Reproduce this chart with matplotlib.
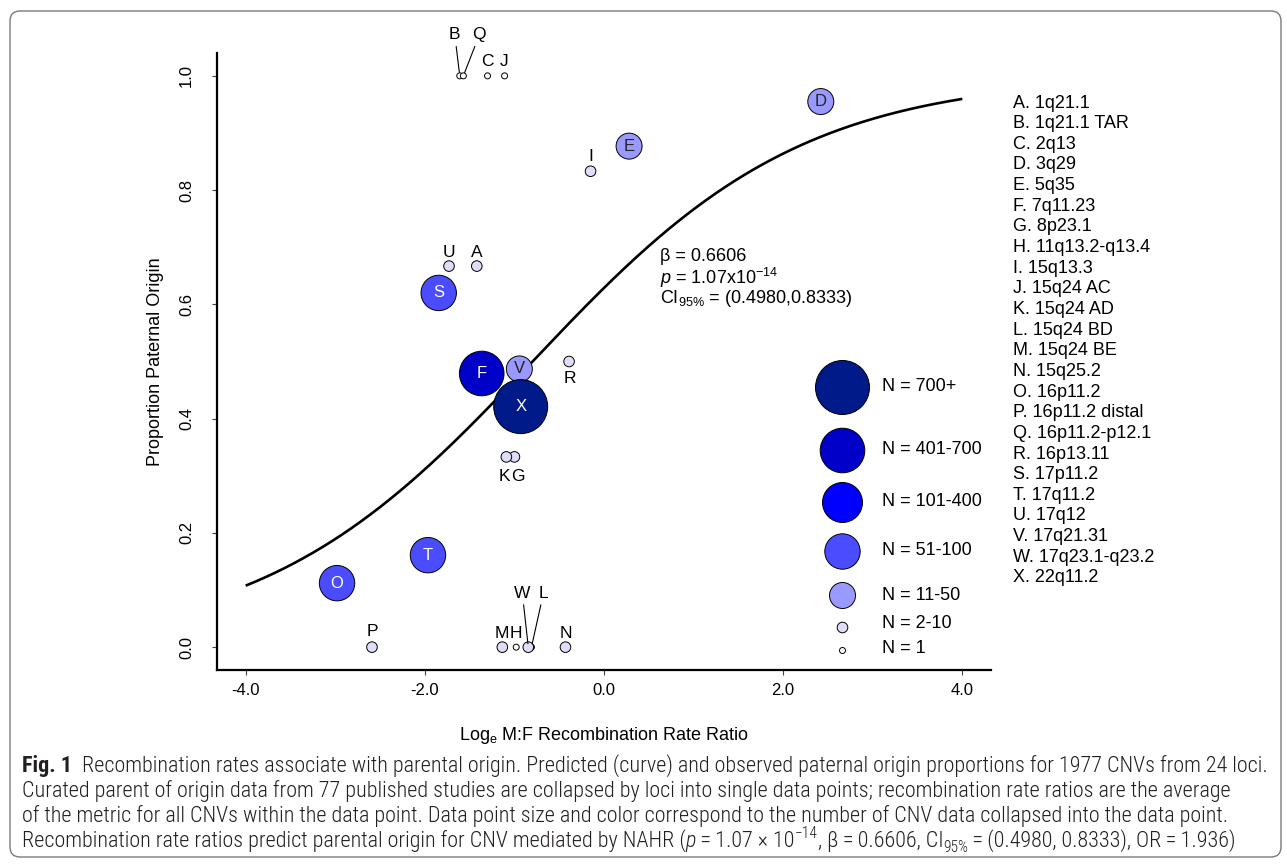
import matplotlib

matplotlib.use("Agg")
import matplotlib.pyplot as plt
import numpy as np
from matplotlib.patches import FancyBboxPatch
from matplotlib.transforms import IdentityTransform

plt.rcParams["font.family"] = ["Liberation Sans", "DejaVu Sans"]
plt.rcParams["mathtext.fontset"] = "custom"
plt.rcParams["mathtext.rm"] = "Liberation Sans"
plt.rcParams["mathtext.it"] = "Liberation Sans:italic"

# --- data ---------------------------------------------------------------
loci = list("ABCDEFGHIJKLMNOPQRSTUVWX")
loci_names = [
    "1q21.1", "1q21.1 TAR", "2q13", "3q29", "5q35", "7q11.23", "8p23.1",
    "11q13.2-q13.4", "15q13.3", "15q24 AC", "15q24 AD", "15q24 BD",
    "15q24 BE", "15q25.2", "16p11.2", "16p11.2 distal", "16p11.2-p12.1",
    "16p13.11", "17p11.2", "17q11.2", "17q12", "17q21.31",
    "17q23.1-q23.2", "22q11.2",
]
log_ratio = [
    -1.42, -1.61, -1.30, 2.42, 0.28, -1.365, -1.00, -0.98, -0.15, -1.11,
    -1.09, -0.81, -1.135, -0.43, -2.98, -2.59, -1.57, -0.39, -1.845,
    -1.965, -1.73, -0.945, -0.845, -0.93,
]
prop_paternal = [
    0.667, 1.0, 1.0, 0.955, 0.877, 0.479, 0.333, 0.0, 0.833, 1.0,
    0.333, 0.0, 0.0, 0.0, 0.112, 0.0, 1.0, 0.5, 0.62,
    0.161, 0.667, 0.487, 0.0, 0.421,
]
n_class = [
    "2-10", "1", "1", "11-50", "11-50", "401-700", "2-10", "1", "2-10", "1",
    "2-10", "1", "2-10", "2-10", "51-100", "2-10", "1", "2-10", "51-100",
    "51-100", "2-10", "11-50", "2-10", "700+",
]

# size classes (legend order)
size_classes = ["700+", "401-700", "101-400", "51-100", "11-50", "2-10", "1"]
class_colors = ["#001a8a", "#0000c8", "#0000ff", "#4c4cff", "#9999ff", "#dedefa", "#ffffff"]
class_radius_px = [27, 22.3, 20, 17.7, 13, 5.3, 3]

# logistic fit
beta = 0.6606
intercept = 0.527
curve_x = np.linspace(-4, 4, 300)
curve_y = 1 / (1 + np.exp(-(intercept + beta * curve_x)))

# --- layout -------------------------------------------------------------
W, H = 1287, 864
PT = 72 / 100  # points per pixel

color_of = dict(zip(size_classes, class_colors))
radius_of = dict(zip(size_classes, class_radius_px))
inside_label = {"700+", "401-700", "101-400", "51-100", "11-50"}
light_classes = {"11-50"}

# label offsets for small points, in pixels (dx, dy up)
label_offset = {
    "A": (0, 14), "B": (-5, 41), "C": (0, 14), "G": (3, -20), "H": (0, 14),
    "I": (0, 15), "J": (0, 14), "K": (-2, -20), "L": (12, 54), "M": (-1, 14),
    "N": (0, 14), "P": (0, 16), "Q": (16, 41), "R": (1, -17), "U": (0, 14),
    "W": (-6, 54),
}
leader = {"B", "Q", "L", "W"}

fig = plt.figure(figsize=(W / 100, H / 100), dpi=100)
ax = fig.add_axes([217 / W, 1 - 670 / H, (991 - 217) / W, (670 - 53) / H])

ax.plot(curve_x, curve_y, color="black", lw=1.9, zorder=2, solid_capstyle="butt")

sizes = [(2 * radius_of[c] * PT) ** 2 for c in n_class]
colors = [color_of[c] for c in n_class]
ax.scatter(log_ratio, prop_paternal, s=sizes, c=colors, edgecolors="black",
           linewidths=0.7, zorder=3)

for lab, x, y, c in zip(loci, log_ratio, prop_paternal, n_class):
    if c in inside_label:
        ax.text(x, y, lab, ha="center", va="center", fontsize=12,
                color="#222222" if c in light_classes else "white", zorder=4)
    else:
        dx, dy = label_offset[lab]
        arrow = None
        if lab in leader:
            arrow = dict(arrowstyle="-", color="black", lw=0.8,
                         shrinkA=1, shrinkB=2.5)
        ax.annotate(lab, (x, y), xytext=(dx * PT, dy * PT),
                    textcoords="offset points", ha="center", va="center",
                    fontsize=12.5, arrowprops=arrow, zorder=4)

ax.text(0.625, 0.684, "β = 0.6606", fontsize=13, va="center", ha="left")
ax.text(0.625, 0.647, r"$\mathit{p}$ = 1.07x10$^{\mathrm{-14}}$", fontsize=13,
        va="center", ha="left")
ax.text(0.625, 0.610, r"CI$_{\mathrm{95\%}}$ = (0.4980,0.8333)", fontsize=13,
        va="center", ha="left")

# size key
key_y = [0.459, 0.3566, 0.2728, 0.1929, 0.1211, 0.0692, 0.0324]
key_text_y = [0.459, 0.3566, 0.2728, 0.1929, 0.1211, 0.0757, 0.0352]
for cls, col, r, ky, ty in zip(size_classes, class_colors, class_radius_px,
                               key_y, key_text_y):
    ax.scatter([0.808], [ky], s=(2 * r * PT) ** 2, c=col, edgecolors="black",
               linewidths=0.7, transform=ax.transAxes, zorder=3, clip_on=False)
    ax.text(0.8588, ty, f"N = {cls}", transform=ax.transAxes, fontsize=13,
            va="center", ha="left")

ax.set_xlim(-4.32, 4.32)
ax.set_ylim(-0.04, 1.04)
ax.set_xticks([-4, -2, 0, 2, 4])
ax.set_xticklabels(["-4.0", "-2.0", "0.0", "2.0", "4.0"])
ax.set_yticks([0, 0.2, 0.4, 0.6, 0.8, 1.0])
ax.set_yticklabels(["0.0", "0.2", "0.4", "0.6", "0.8", "1.0"])
for side in ("top", "right"):
    ax.spines[side].set_visible(False)
for side in ("left", "bottom"):
    ax.spines[side].set_linewidth(1.6)
ax.tick_params(direction="out", length=3.6, width=0.8, color="#444444",
               labelsize=12)
ax.tick_params(axis="x", pad=6)
ax.tick_params(axis="y", pad=13)
for t in ax.get_yticklabels():
    t.set_rotation(90)
    t.set_va("center")
    t.set_ha("right")

ax.set_xlabel(r"Log$_{\mathrm{e}}$ M:F Recombination Rate Ratio", fontsize=13)
ax.xaxis.label.set_va("center")
ax.xaxis.set_label_coords(0.5, (670 - 735) / 617)
ax.set_ylabel("Proportion Paternal Origin", fontsize=13)
ax.yaxis.label.set_va("center")
ax.yaxis.set_label_coords((155 - 217) / 774, 0.5)

# loci key on the right
for i, (lab, name) in enumerate(zip(loci, loci_names)):
    fig.text(1013 / W, 1 - (103 + i * 20.65) / H, f"{lab}. {name}",
             fontsize=13, va="center", ha="left")

# rounded frame
frame = FancyBboxPatch((10, 7), 1271, 846, boxstyle="round,pad=0,rounding_size=10",
                       transform=IdentityTransform(), fill=False,
                       edgecolor="#7a7a7a", lw=1.0)
fig.patches.append(frame)

# caption
CAP_FONTS = ["Roboto Condensed", "Liberation Sans", "DejaVu Sans"]
CAP_COLOR = "#231f20"
renderer = fig.canvas.get_renderer()


def text_width(s, **kw):
    a = fig.text(0, 0, "|" + s + "|", **kw)
    b = fig.text(0, 0, "||", **kw)
    w = a.get_window_extent(renderer).width - b.get_window_extent(renderer).width
    a.remove()
    b.remove()
    return w


def run_kwargs(style, size):
    kw = dict(family=CAP_FONTS, fontsize=size, color=CAP_COLOR, weight="light")
    rise = 0.0
    if style == "bold":
        kw["weight"] = "bold"
    elif style == "italic":
        kw["style"] = "italic"
    elif style == "sup":
        kw["fontsize"] = size * 0.7
        rise = -size / PT * 0.42
    elif style == "sub":
        kw["fontsize"] = size * 0.7
        rise = size / PT * 0.22
    return kw, rise


def runs_width(runs, size):
    return sum(text_width(t, **run_kwargs(s, size)[0]) for t, s in runs)


def draw_runs(x_px, y_px, runs, size):
    x = x_px
    for t, s in runs:
        kw, rise = run_kwargs(s, size)
        fig.text(x / W, 1 - (y_px + rise) / H, t, ha="left", va="baseline", **kw)
        x += text_width(t, **kw)


caption = [
    [("Fig. 1", "bold"),
     ("  Recombination rates associate with parental origin. Predicted (curve) and "
      "observed paternal origin proportions for 1977 CNVs from 24 loci.", "")],
    [("Curated parent of origin data from 77 published studies are collapsed by loci "
      "into single data points; recombination rate ratios are the average", "")],
    [("of the metric for all CNVs within the data point. Data point size and color "
      "correspond to the number of CNV data collapsed into the data point.", "")],
    [("Recombination rate ratios predict parental origin for CNV mediated by NAHR (", ""),
     ("p", "italic"),
     ("\u2009=\u20091.07 \u00d7 10", ""),
     ("\u221214", "sup"),
     (", \u03b2\u2009=\u20090.6606, CI", ""),
     ("95%", "sub"),
     ("\u2009=\u2009(0.4980, 0.8333), OR\u2009=\u20091.936)", "")],
]
cap_size = 10 * (1270 - 22) / runs_width(caption[0], 10)
for i, line in enumerate(caption):
    draw_runs(22, 772 + 25 * i, line, cap_size)

fig.savefig("out.png", dpi=100)
